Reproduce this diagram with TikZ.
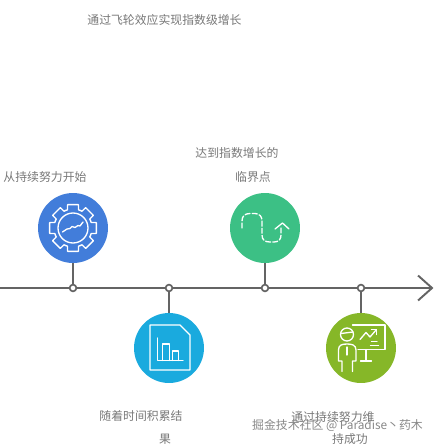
\documentclass[tikz,border=0pt]{standalone}
\usepackage{fontspec}
\usepackage{tikz}
\usetikzlibrary{arrows.meta}
\newfontfamily\cjk{Noto Sans CJK SC}
\definecolor{linegray}{RGB}{100,100,100}
\definecolor{textgray}{RGB}{120,120,120}
\definecolor{markgray}{RGB}{135,135,135}
\definecolor{gearblue}{RGB}{66,125,218}
\definecolor{signgreen}{RGB}{60,192,133}
\definecolor{chartblue}{RGB}{26,170,222}
\definecolor{boardgreen}{RGB}{134,183,40}
\tikzset{
  hub/.style={circle,draw=none,minimum size=1.4cm,inner sep=0pt},
  knot/.style={circle,draw=linegray,fill=white,line width=0.95pt,minimum size=0.135cm,inner sep=0pt},
  stem/.style={draw=linegray,line width=1.1pt},
  caption/.style={font=\cjk\fontsize{6.75}{7}\selectfont,text=textgray,inner sep=0pt},
  iconline/.style={draw=white,line width=0.75pt,line join=round,line cap=round}
}
\begin{document}
\begin{tikzpicture}[x=0.02cm,y=-0.02cm]
    \useasboundingbox (0,0) rectangle (434,444);
    \coordinate (start) at (0,288);
    \coordinate (end) at (433.5,288);
    \draw[stem,-{Straight Barb[length=0.28cm,width=0.5cm]}] (start)--(end);
    % hubs and knots
    \node[hub,fill=gearblue] (gear) at (73,228){};
    \node[hub,fill=chartblue] (chart) at (169,348){};
    \node[hub,fill=signgreen] (sign) at (265,228){};
    \node[hub,fill=boardgreen] (board) at (361,348){};
    \foreach \n/\x in {gear/73,chart/169,sign/265,board/361}{
      \node[knot] (knot\n) at (\x,288){};
      \draw[stem] (\n)--(knot\n);
    }
    % gear
    \begin{scope}[shift={(73,228)}]
      \foreach \a in {0,45,...,315}{
        \draw[iconline] (\a-22.5:19)--(\a-17:19)--(\a-13:24)--(\a+13:24)--(\a+17:19)--(\a+22.5:19);
      }
      \draw[iconline] (0,0) circle (15);
    \end{scope}
    \draw[iconline] (62.5,232)--(67,229)--(70,228.5)--(72,226.5)--(75,227.5)--(78,225.5)--(80,226)--(83,222);
    % dashed wave
    \draw[iconline,dash pattern=on 2.9pt off 1.2pt] (242,228)--(242,221)
      .. controls (242,216) and (245,213.5) .. (250,213.5)--(255,213.5)
      .. controls (260,213.5) and (262,217) .. (262,221)--(262,235)
      .. controls (262,240) and (265,242) .. (270,242)--(274,242)
      .. controls (279,242) and (281,239) .. (281,235)--(281,226);
    \draw[iconline] (275,229)--(282.5,223)--(289,229);
    % document
    \draw[iconline] (150,325)--(180,325)--(190,335)--(190,370)--(150,370)--cycle;
    \draw[iconline] (157.5,338)--(157.5,360.5)--(183,360.5);
    \draw[iconline] (162.5,360.5)--(162.5,344)--(169.5,344)--(169.5,360.5);
    \draw[iconline] (172.5,360.5)--(172.5,351)--(178.5,351)--(178.5,360.5);
    % presenter
    \draw[iconline] (352.5,325)--(385,325)--(385,349.5)--(358,349.5);
    \draw[iconline] (366,349.5)--(366,361)--(360.5,361)--(371.5,361);
    \draw[iconline] (360,339.5)--(366,332.5)--(370,337)--(376.5,329.5);
    \draw[iconline] (371.5,329.5)--(376.5,329.5)--(376.5,334.5);
    \draw[iconline] (371.5,341.5)--(377,341.5);
    \draw[iconline] (370.5,345.5)--(378.5,345.5);
    \draw[iconline] (347,334.5) circle (6.5);
    \draw[iconline] (341,333.5)--(353,332);
    \draw[iconline] (342,371.5)--(342,361)--(338.5,361)--(338.5,350) .. controls (338.5,345) and (342,344) .. (347,344)
      .. controls (352,344) and (356,345) .. (356,350)--(356,361)--(352.5,361)--(352.5,371.5);
    \draw[iconline] (347,347)--(347,355);
    % captions
    \node[caption] (title) at (164.5,20){通过飞轮效应实现指数级增长};
    \node[caption] (first) at (45,176.5){从持续努力开始};
    \node[caption] (third) at (237,153){达到指数增长的};
    \node[caption] (thirdb) at (253,177){临界点};
    \node[caption] (second) at (141,416){随着时间积累结};
    \node[caption] (secondb) at (165,439.5){果};
    \node[caption] (fourth) at (333,416.5){通过持续努力维};
    \node[caption] (fourthb) at (350,439.5){持成功};
    \node[caption,text=markgray] (mark) at (337.5,425.5){掘金技术社区 @ Paradise丶药木};
\end{tikzpicture}
\end{document}
